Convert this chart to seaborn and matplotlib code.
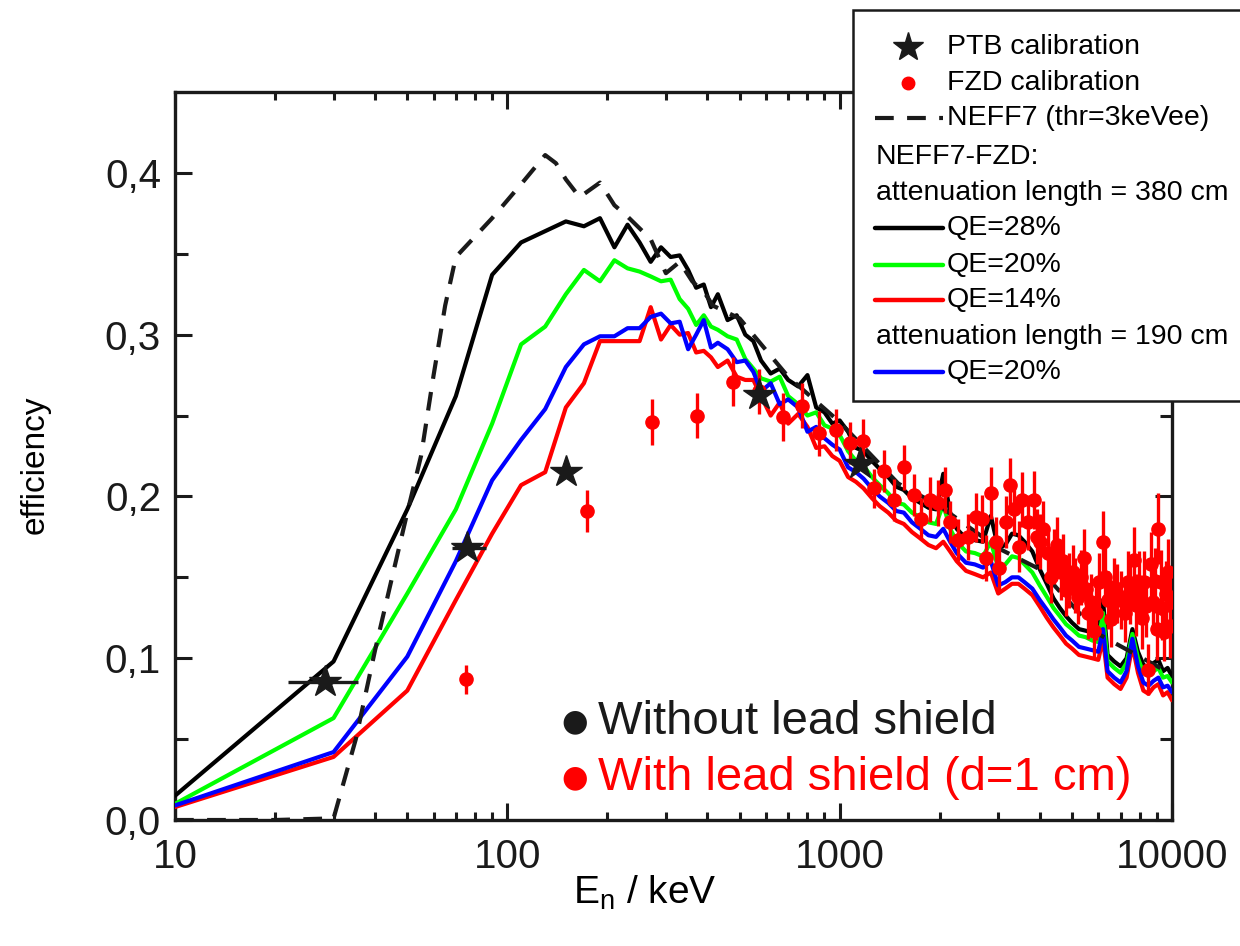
import numpy as np
import matplotlib
matplotlib.use('Agg')
import matplotlib.pyplot as plt
import seaborn as sns
from matplotlib.lines import Line2D
from matplotlib.patches import Rectangle
from matplotlib.ticker import FixedLocator, NullFormatter, LogLocator

# ---------------- data ----------------
E_low = [10, 30, 50, 70, 90, 110, 130, 150, 170, 190, 210, 230, 250, 270, 290, 310]
E_tail = [330, 350, 370, 390, 410, 430, 460, 490, 520, 550,
          580, 620, 660, 700, 750, 800, 850, 900, 950, 1000,
          1060, 1120, 1180, 1250, 1320, 1400, 1480, 1560, 1650, 1750,
          1850, 1950, 2050, 2150, 2250, 2400, 2550, 2700, 2850, 3000,
          3150, 3300, 3450, 3600, 3800, 4000, 4200, 4400, 4600, 4800,
          5000, 5250, 5500, 5750, 6000, 6200, 6400, 6700, 7000, 7300,
          7600, 7900, 8200, 8500, 8800, 9100, 9400, 9700, 10000]

qe28_low = [0.015, 0.098, 0.192, 0.262, 0.337, 0.357, 0.364, 0.370, 0.367, 0.372,
            0.354, 0.368, 0.357, 0.345, 0.354, 0.348]
qe28_tail = [0.349, 0.340, 0.329, 0.331, 0.317, 0.325, 0.309, 0.312, 0.300, 0.296,
             0.284, 0.276, 0.279, 0.272, 0.268, 0.275, 0.255, 0.252, 0.245, 0.247,
             0.240, 0.230, 0.228, 0.222, 0.217, 0.212, 0.206, 0.204, 0.199, 0.196,
             0.193, 0.192, 0.214, 0.190, 0.180, 0.174, 0.173, 0.172, 0.188, 0.168,
             0.170, 0.177, 0.176, 0.172, 0.166, 0.155, 0.146, 0.137, 0.131, 0.126,
             0.122, 0.118, 0.117, 0.116, 0.115, 0.136, 0.102, 0.098, 0.095, 0.100,
             0.118, 0.104, 0.096, 0.094, 0.097, 0.099, 0.092, 0.094, 0.089]

qe20_low = [0.010, 0.063, 0.140, 0.192, 0.245, 0.294, 0.305, 0.325, 0.340, 0.333,
            0.346, 0.341, 0.339, 0.336, 0.333, 0.334]
qe20_tail = [0.322, 0.316, 0.306, 0.312, 0.305, 0.303, 0.299, 0.297, 0.285, 0.279,
             0.273, 0.271, 0.274, 0.262, 0.257, 0.250, 0.252, 0.244, 0.242, 0.238,
             0.228, 0.222, 0.219, 0.212, 0.207, 0.202, 0.196, 0.195, 0.190, 0.187,
             0.184, 0.183, 0.195, 0.180, 0.172, 0.166, 0.165, 0.163, 0.172, 0.156,
             0.158, 0.163, 0.162, 0.158, 0.153, 0.145, 0.138, 0.131, 0.126, 0.121,
             0.118, 0.114, 0.113, 0.111, 0.110, 0.128, 0.098, 0.094, 0.091, 0.097,
             0.115, 0.100, 0.091, 0.089, 0.092, 0.094, 0.088, 0.089, 0.085]

qe14_low = [0.008, 0.039, 0.080, 0.136, 0.177, 0.207, 0.215, 0.255, 0.270, 0.296,
            0.296, 0.296, 0.296, 0.317, 0.297, 0.306]
qe14_tail = [0.300, 0.301, 0.289, 0.290, 0.286, 0.280, 0.284, 0.274, 0.272, 0.272,
             0.262, 0.250, 0.258, 0.245, 0.251, 0.243, 0.230, 0.231, 0.225, 0.222,
             0.212, 0.209, 0.205, 0.199, 0.194, 0.190, 0.185, 0.183, 0.178, 0.174,
             0.170, 0.168, 0.172, 0.166, 0.160, 0.154, 0.152, 0.150, 0.153, 0.140,
             0.143, 0.146, 0.146, 0.143, 0.139, 0.132, 0.125, 0.119, 0.114, 0.109,
             0.106, 0.102, 0.101, 0.100, 0.099, 0.112, 0.088, 0.084, 0.081, 0.088,
             0.108, 0.091, 0.080, 0.078, 0.082, 0.084, 0.077, 0.079, 0.074]

qe20b_low = [0.009, 0.042, 0.101, 0.160, 0.210, 0.235, 0.254, 0.280, 0.294, 0.299,
             0.299, 0.304, 0.304, 0.311, 0.313, 0.307]
qe20b_tail = [0.308, 0.291, 0.300, 0.309, 0.292, 0.295, 0.291, 0.283, 0.284, 0.277,
              0.265, 0.270, 0.257, 0.260, 0.255, 0.240, 0.243, 0.236, 0.232, 0.229,
              0.218, 0.215, 0.211, 0.205, 0.200, 0.196, 0.191, 0.190, 0.184, 0.180,
              0.176, 0.175, 0.180, 0.172, 0.165, 0.159, 0.158, 0.156, 0.160, 0.145,
              0.147, 0.150, 0.150, 0.147, 0.143, 0.136, 0.130, 0.124, 0.119, 0.114,
              0.111, 0.107, 0.106, 0.105, 0.104, 0.118, 0.092, 0.088, 0.085, 0.092,
              0.112, 0.095, 0.085, 0.083, 0.086, 0.088, 0.082, 0.083, 0.079]

neff7_E = [10, 20, 30, 35, 40, 45, 50, 55, 60, 65, 70, 90, 110, 130, 140, 150, 165,
           190, 210, 230, 270, 300, 330, 360, 395, 415, 500, 700, 1000, 1500, 2000,
           3000, 4000, 6000, 10000]
neff7_eff = [0.000, 0.000, 0.001, 0.050, 0.105, 0.150, 0.190, 0.225, 0.275, 0.318,
             0.348, 0.372, 0.393, 0.411, 0.406, 0.396, 0.385, 0.394, 0.380, 0.373,
             0.359, 0.338, 0.345, 0.333, 0.325, 0.318, 0.310, 0.274, 0.246, 0.208,
             0.194, 0.168, 0.155, 0.115, 0.090]

fzd_E = [75, 174, 273, 373, 476, 570, 673, 769, 865, 973,
         1072, 1172, 1265, 1358, 1455, 1560, 1670, 1753, 1867, 1972,
         2070, 2143, 2265, 2432, 2570, 2679, 2754, 2852, 2950, 3020,
         3162, 3250, 3342, 3459, 3532, 3681, 3838, 3918, 4000, 4100,
         4236, 4330, 4416, 4520, 4634, 4700, 4797, 4900, 5035, 5120,
         5216, 5320, 5433, 5500, 5585, 5700, 5823, 5920, 6026, 6197,
         6300, 6413, 6550, 6687, 6850, 7022, 7200, 7362, 7500, 7674,
         7800, 7949, 8100, 8222, 8350, 8453, 8650, 8750, 8892, 9000,
         9082, 9260, 9360, 9463, 9600, 9720, 9850, 9950]
fzd_eff = [0.087, 0.191, 0.246, 0.250, 0.271, 0.265, 0.249, 0.256, 0.239, 0.241,
           0.233, 0.234, 0.205, 0.216, 0.198, 0.218, 0.201, 0.186, 0.198, 0.196,
           0.204, 0.184, 0.173, 0.175, 0.187, 0.186, 0.162, 0.202, 0.172, 0.156,
           0.184, 0.207, 0.192, 0.169, 0.198, 0.184, 0.198, 0.175, 0.172, 0.180,
           0.165, 0.150, 0.163, 0.170, 0.153, 0.160, 0.142, 0.148, 0.153, 0.145,
           0.138, 0.150, 0.162, 0.143, 0.128, 0.135, 0.117, 0.128, 0.147, 0.172,
           0.150, 0.136, 0.124, 0.144, 0.140, 0.136, 0.128, 0.147, 0.140, 0.161,
           0.133, 0.147, 0.125, 0.147, 0.132, 0.093, 0.158, 0.135, 0.148, 0.118,
           0.180, 0.147, 0.131, 0.116, 0.140, 0.153, 0.120, 0.135]
fzd_err = [0.009, 0.013, 0.014, 0.014, 0.015, 0.014, 0.015, 0.014, 0.014, 0.013,
           0.013, 0.014, 0.012, 0.013, 0.013, 0.014, 0.013, 0.013, 0.014, 0.014,
           0.014, 0.013, 0.013, 0.014, 0.015, 0.015, 0.014, 0.016, 0.015, 0.015,
           0.016, 0.017, 0.016, 0.016, 0.017, 0.017, 0.018, 0.017, 0.017, 0.017,
           0.017, 0.016, 0.017, 0.017, 0.017, 0.017, 0.016, 0.017, 0.017, 0.017,
           0.017, 0.017, 0.018, 0.017, 0.016, 0.017, 0.016, 0.017, 0.018, 0.019,
           0.018, 0.018, 0.017, 0.018, 0.018, 0.018, 0.018, 0.019, 0.019, 0.020,
           0.019, 0.019, 0.019, 0.019, 0.019, 0.016, 0.020, 0.020, 0.020, 0.019,
           0.022, 0.020, 0.020, 0.018, 0.020, 0.021, 0.020, 0.020]

ptb_E = [28.3, 75.8, 150.0, 570.0, 1150.0]
ptb_eff = [0.085, 0.168, 0.215, 0.263, 0.220]
ptb_E_lo = [21.9, 68.0, 150.0, 570.0, 1150.0]
ptb_E_hi = [35.6, 86.0, 150.0, 570.0, 1150.0]

y_ticks = [0.0, 0.1, 0.2, 0.3, 0.4]
y_ticklabels = ['0,0', '0,1', '0,2', '0,3', '0,4']
x_ticks = [10, 100, 1000, 10000]
x_ticklabels = ['10', '100', '1000', '10000']

# ---------------- styling ----------------
sns.set_theme(style='ticks')
plt.rcParams['font.family'] = ['Liberation Sans', 'DejaVu Sans']
plt.rcParams['text.color'] = 'black'
plt.rcParams['axes.labelcolor'] = 'black'
plt.rcParams['mathtext.fontset'] = 'custom'
plt.rcParams['mathtext.rm'] = 'Liberation Sans'
plt.rcParams['mathtext.it'] = 'Liberation Sans:italic'

W, H = 1240, 946
fig = plt.figure(figsize=(W / 100, H / 100), dpi=100)
L, R, T, B = 175, 1172, 92, 820
ax = fig.add_axes([L / W, 1 - B / H, (R - L) / W, (B - T) / H])

E_sim = E_low + E_tail
series = [
    (qe28_low + qe28_tail, '#000000'),
    (qe20_low + qe20_tail, '#00ff00'),
    (qe14_low + qe14_tail, '#ff0000'),
    (qe20b_low + qe20b_tail, '#0000ff'),
]
LW = 3.0
for vals, col in series:
    sns.lineplot(x=E_sim, y=vals, ax=ax, color=col, lw=LW, sort=False,
                 estimator=None, zorder=3)

sns.lineplot(x=neff7_E, y=neff7_eff, ax=ax, color='k', lw=3.0, sort=False,
             estimator=None, zorder=3)
ax.lines[-1].set_dashes((4.5, 3.2))

ax.errorbar(fzd_E, fzd_eff, yerr=fzd_err, fmt='o', color='#ff0000', ms=9.5,
            elinewidth=2.4, capsize=0, zorder=5)

xerr = [np.array(ptb_E) - np.array(ptb_E_lo), np.array(ptb_E_hi) - np.array(ptb_E)]
ax.errorbar(ptb_E, ptb_eff, xerr=xerr, fmt='*', color='k', ms=24,
            elinewidth=2.4, capsize=0, zorder=6)

ax.set_xscale('log')
ax.set_xlim(10, 10000)
ax.set_ylim(0, 0.45)
ax.set_xticks(x_ticks, labels=x_ticklabels)
ax.xaxis.set_minor_locator(LogLocator(base=10, subs=np.arange(2, 10)))
ax.xaxis.set_minor_formatter(NullFormatter())
ax.set_yticks(y_ticks, labels=y_ticklabels)
ax.yaxis.set_minor_locator(FixedLocator([0.05, 0.15, 0.25, 0.35]))
ax.tick_params(which='both', direction='in', top=True, right=True, width=2.2,
               colors='k', labelsize=29)
ax.tick_params(which='major', length=12)
ax.tick_params(axis='x', which='major', pad=13)
ax.tick_params(axis='y', which='major', pad=10)
ax.tick_params(axis='x', which='minor', length=6)
ax.tick_params(axis='y', which='minor', length=9)
for s in ax.spines.values():
    s.set_linewidth(2.4)
    s.set_color('k')
ax.set_xlabel('')
ax.set_ylabel('')

fig.text(35 / W, 1 - 465 / H, 'efficiency', rotation=90, ha='center',
         va='center', fontsize=24, color='black')
fig.text(645 / W, 1 - 893 / H, r'E$_\mathrm{n}$ / keV', ha='center',
         va='center', fontsize=28, color='black')

# annotations inside the plot
ax.text(0.401, 0.1346, '\u25CF', transform=ax.transAxes, ha='center',
        va='center', fontsize=22, color='k', family='DejaVu Sans')
ax.text(0.424, 0.1346, 'Without lead shield', transform=ax.transAxes,
        ha='left', va='center', fontsize=34, color='k')
ax.text(0.401, 0.0577, '\u25CF', transform=ax.transAxes, ha='center',
        va='center', fontsize=22, color='#ff0000', family='DejaVu Sans')
ax.text(0.424, 0.0577, 'With lead shield (d=1 cm)', transform=ax.transAxes,
        ha='left', va='center', fontsize=34, color='#ff0000')

# legend box (drawn outside the axes like the original)
box = Rectangle((853 / W, 1 - 401 / H), 0.5, (401 - 10) / H,
                transform=fig.transFigure, facecolor='white', lw=1.8,
                edgecolor='k', clip_on=False, zorder=5)
fig.add_artist(box)

leg_rows = [
    ('star', 'PTB calibration', 47),
    ('dot', 'FZD calibration', 83),
    ('dash', 'NEFF7 (thr=3keVee)', 118),
    (None, 'NEFF7-FZD:', 157),
    (None, 'attenuation length = 380 cm', 193),
    ('#000000', 'QE=28%', 228),
    ('#00ff00', 'QE=20%', 265),
    ('#ff0000', 'QE=14%', 300),
    (None, 'attenuation length = 190 cm', 337),
    ('#0000ff', 'QE=20%', 372),
]
FS = 20.5
hx0, hx1, tx, px = 875 / W, 943 / W, 947 / W, 876 / W
for kind, label, yp in leg_rows:
    yf = 1 - yp / H
    if kind is None:
        fig.text(px, yf, label, ha='left', va='center', fontsize=FS, zorder=6,
                 color='black')
        continue
    if kind == 'star':
        fig.add_artist(Line2D([908 / W], [yf], marker='*', ms=22, color='k',
                              lw=0, transform=fig.transFigure, zorder=6))
    elif kind == 'dot':
        fig.add_artist(Line2D([908 / W], [yf], marker='o', ms=9, color='#ff0000',
                              lw=0, transform=fig.transFigure, zorder=6))
    elif kind == 'dash':
        ln = Line2D([hx0, hx1], [yf, yf], color='k', lw=3.0,
                    transform=fig.transFigure, zorder=6)
        ln.set_dashes((4.5, 3.2))
        fig.add_artist(ln)
    else:
        fig.add_artist(Line2D([hx0, hx1], [yf, yf], color=kind, lw=3.2,
                              transform=fig.transFigure, zorder=6))
    fig.text(tx, yf, label, ha='left', va='center', fontsize=FS, zorder=6,
             color='black')

fig.savefig('out.png', dpi=100)
